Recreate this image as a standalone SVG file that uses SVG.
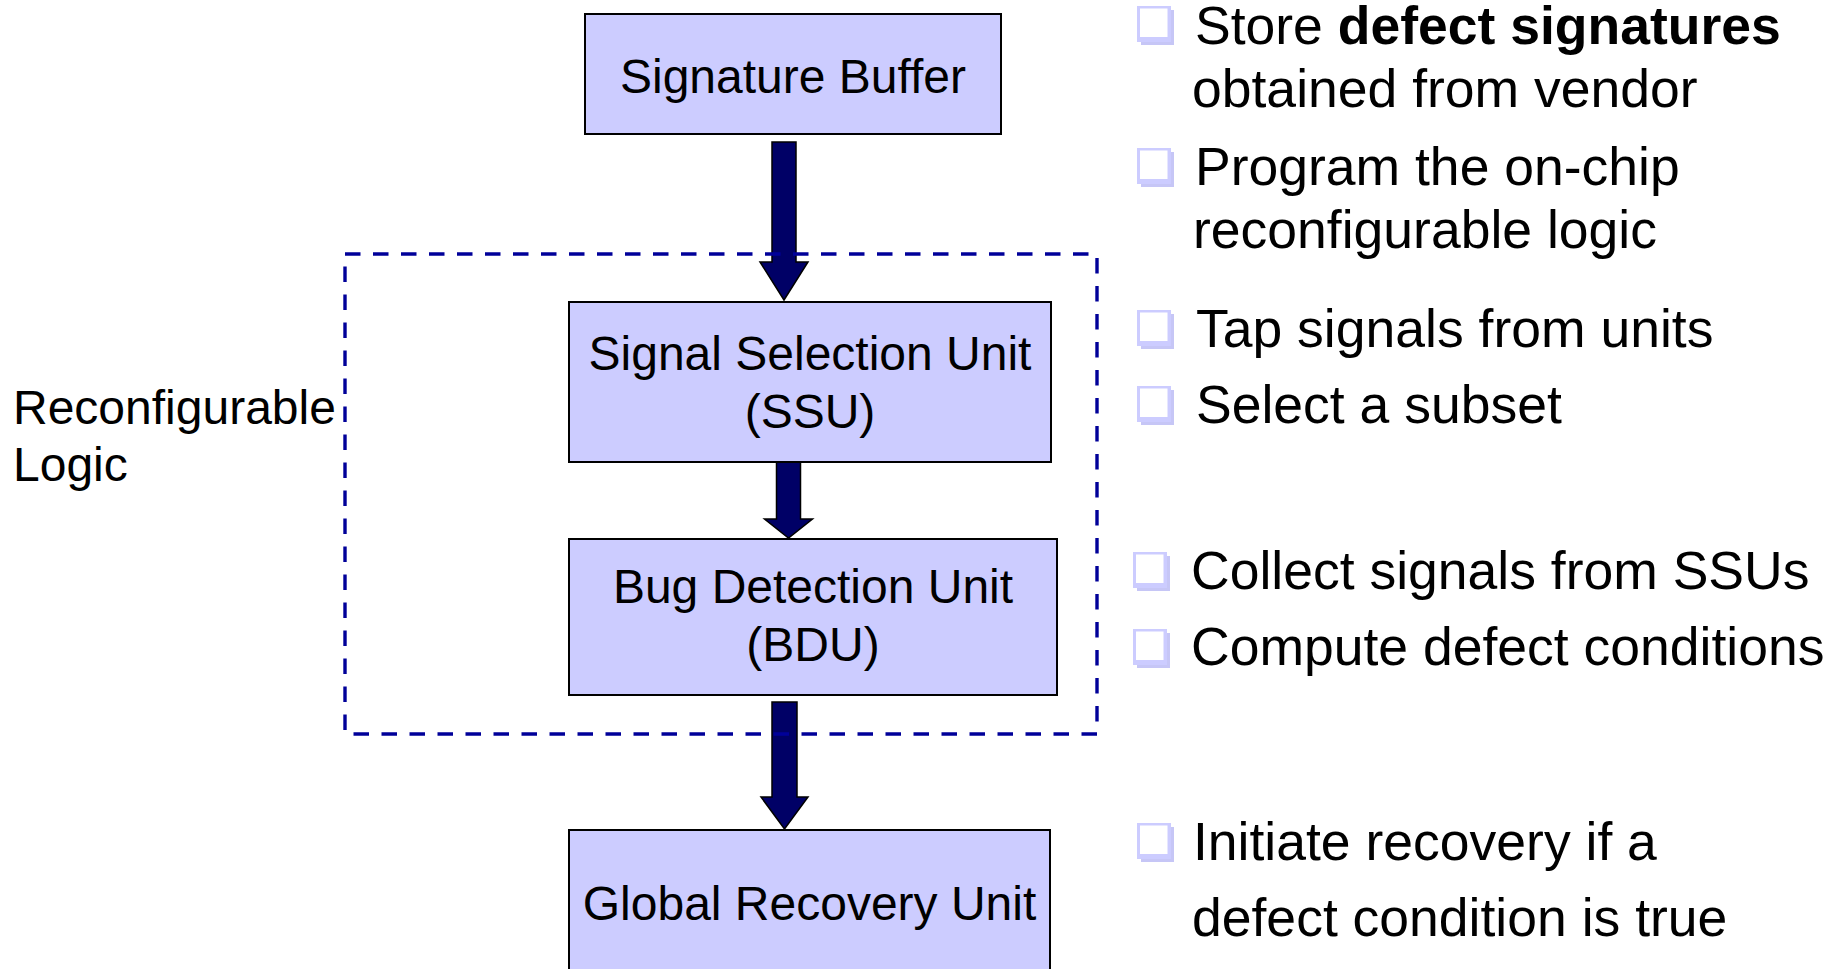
<svg xmlns="http://www.w3.org/2000/svg" width="1838" height="969" viewBox="0 0 1838 969">
  <style>
    .box { fill: #ccccff; stroke: #000000; stroke-width: 2; }
    .lbl { font-family: "Liberation Sans", Arial, sans-serif; font-size: 48px; fill: #000000; }
    .mid { text-anchor: middle; }
    .note { font-family: "Liberation Sans", Arial, sans-serif; font-size: 53.5px; fill: #000000; }
    .arrow { fill: #000066; stroke: #000000; stroke-width: 1.5; stroke-linejoin: miter; }
    .region { fill: none; stroke: #000099; stroke-width: 3.4; stroke-dasharray: 15.5 12.5; }
  </style>
  <defs>
    <!-- hollow square bullet with a drop shadow -->
    <g id="bullet">
      <rect x="4" y="4" width="33" height="35" fill="#c6c6f6"/>
      <rect x="0" y="0" width="34" height="36" fill="#ccccff"/>
      <rect x="3" y="2.5" width="27.5" height="28.5" fill="#ffffff"/>
    </g>
  </defs>

  <rect width="1838" height="969" fill="#ffffff"/>

  <!-- flow arrows -->
  <g id="connectors">
    <path class="arrow" d="M772,142 H796 V262 H808 L784,300 L760,262 H772 Z"/>
    <path class="arrow" d="M776.5,462 H800.5 V519 H812.5 L788.5,538 L764.5,519 H776.5 Z"/>
    <path class="arrow" d="M772,702 H797 V797 H808 L784.5,829 L761,797 H772 Z"/>
  </g>

  <!-- reconfigurable logic region -->
  <g id="reconfigurable-logic">
    <rect class="region" x="345" y="254" width="752" height="480"/>
    <text class="lbl" x="13" y="424">Reconfigurable</text>
    <text class="lbl" x="13" y="481">Logic</text>
  </g>

  <g id="signature-buffer">
    <rect class="box" x="585" y="14" width="416" height="120"/>
    <text class="lbl mid" x="793" y="93">Signature Buffer</text>
  </g>

  <g id="ssu">
    <rect class="box" x="569" y="302" width="482" height="160"/>
    <text class="lbl mid" x="810" y="370">Signal Selection Unit</text>
    <text class="lbl mid" x="810" y="428">(SSU)</text>
  </g>

  <g id="bdu">
    <rect class="box" x="569" y="539" width="488" height="156"/>
    <text class="lbl mid" x="813" y="603">Bug Detection Unit</text>
    <text class="lbl mid" x="813" y="661">(BDU)</text>
  </g>

  <g id="gru">
    <rect class="box" x="569" y="830" width="481" height="150"/>
    <text class="lbl mid" x="809.5" y="920">Global Recovery Unit</text>
  </g>

  <!-- notes for each stage -->
  <g id="notes-buffer">
    <use href="#bullet" x="1137" y="6"/>
    <text class="note" x="1195" y="44">Store <tspan font-weight="bold">defect signatures</tspan></text>
    <text class="note" x="1192" y="107">obtained from vendor</text>
    <use href="#bullet" x="1137" y="148"/>
    <text class="note" x="1195" y="185">Program the on-chip</text>
    <text class="note" x="1193" y="248">reconfigurable logic</text>
  </g>

  <g id="notes-ssu">
    <use href="#bullet" x="1137" y="310"/>
    <text class="note" x="1196" y="347">Tap signals from units</text>
    <use href="#bullet" x="1137" y="386"/>
    <text class="note" x="1196" y="423">Select a subset</text>
  </g>

  <g id="notes-bdu">
    <use href="#bullet" x="1133" y="552"/>
    <text class="note" x="1191" y="589">Collect signals from SSUs</text>
    <use href="#bullet" x="1133" y="629"/>
    <text class="note" x="1191" y="665">Compute defect conditions</text>
  </g>

  <g id="notes-gru">
    <use href="#bullet" x="1137" y="823"/>
    <text class="note" x="1193" y="860">Initiate recovery if a</text>
    <text class="note" x="1192" y="936">defect condition is true</text>
  </g>
</svg>
